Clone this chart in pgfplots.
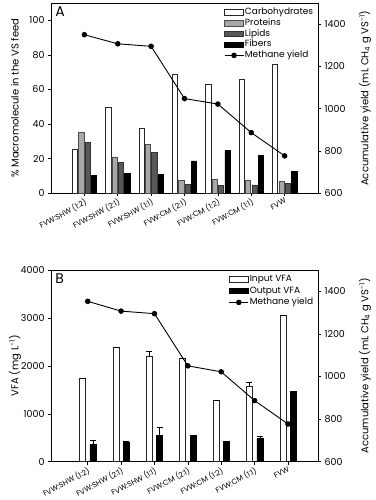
\documentclass[border=0pt]{standalone}
\usepackage{pgfplots}
\pgfplotsset{compat=1.18}
\usepackage{fontspec}
\setmainfont{Poppins}
\definecolor{protgray}{HTML}{A8A8A8}
\definecolor{lipgray}{HTML}{585858}
\pgfplotsset{
  base/.style={
    scale only axis, width=267pt,
    tick align=outside, major tick length=3pt,
    /pgf/number format/assume math mode=true,
    /pgf/number format/1000 sep={},
    scaled y ticks=false,
    tick label style={font=\fontsize{9.5}{11}\selectfont},
    label style={font=\fontsize{10}{12}\selectfont},
    every tick/.style={black, line width=0.5pt},
    axis line style={black, line width=0.6pt},
  },
  xlabs/.style={
    xtick={0,...,6}, xtick pos=bottom,
    xticklabels={FVW:SHW (1:2),FVW:SHW (2:1),FVW:SHW (1:1),FVW:CM (2:1),FVW:CM (1:2),FVW:CM (1:1),FVW},
    x tick label style={rotate=28, anchor=north east, font=\fontsize{7.5}{9}\selectfont, inner sep=1pt},
  },
  legs/.style={
    legend style={at={(rel axis cs:0.99,0.985)}, anchor=north east, draw=none, fill=none,
      font=\fontsize{9}{10}\selectfont, row sep=#1, inner sep=1pt,
      nodes={text height=6.5pt, text depth=1.8pt, inner sep=1pt},
      cells={anchor=west}},
    legend cell align=left,
  },
  barleg/.style={legend image code/.code={\draw[##1] (0pt,-2.8pt) rectangle (19pt,2.8pt);}},
  lineleg/.style={legend image code/.code={\draw[black, line width=0.9pt] (0pt,0pt) -- (19pt,0pt);\fill[black] (9.5pt,0pt) circle (2.3pt);}},
}
\begin{document}
\begin{tikzpicture}[x=1pt,y=1pt]
\useasboundingbox (0,0) rectangle (375,500);
% ---------------- Panel A: bars ----------------
\begin{axis}[base, xlabs, at={(51pt,306.7pt)}, anchor=south west, height=190.3pt,
  xmin=-1, xmax=7, ymin=0, ymax=110,
  ytick={0,20,...,100}, ytick pos=left,
  ylabel={\% Macromolecule in the VS feed},
  ylabel style={at={(axis description cs:-0.135,0.5)}, anchor=center},
  ybar, bar width=5.3pt,
]
\addplot[bar shift=-9.6pt, fill=white, draw=black!85, line width=0.5pt] coordinates {(0,25.2) (1,49.8) (2,37.5) (3,69) (4,63.2) (5,66.1) (6,74.7)};
\addplot[bar shift=-3.2pt, fill=protgray, draw=black!70, line width=0.5pt] coordinates {(0,35.1) (1,21.1) (2,28.2) (3,7.6) (4,8) (5,7.7) (6,7.1)};
\addplot[bar shift=3.2pt, fill=lipgray, draw=black!80, line width=0.5pt] coordinates {(0,29.6) (1,17.9) (2,23.7) (3,5.3) (4,4.4) (5,4.8) (6,5.9)};
\addplot[bar shift=9.6pt, fill=black, draw=black, line width=0.5pt] coordinates {(0,10.5) (1,11.6) (2,11) (3,18.8) (4,24.7) (5,21.8) (6,12.6)};
\node[font=\fontsize{14}{16}\selectfont, anchor=north west, inner sep=1pt] at (rel axis cs:0.012,0.985) {A};
\end{axis}
% ---------------- Panel A: line ----------------
\begin{axis}[base, legs=0.5pt, at={(51pt,306.7pt)}, anchor=south west, height=190.3pt,
  xmin=-1, xmax=7, ymin=600, ymax=1500,
  axis x line=none, axis y line*=right,
  ytick={600,800,...,1400},
  ylabel={Accumulative yield (mL CH\textsubscript{4} g VS\textsuperscript{-1})},
  ylabel style={at={(axis description cs:1.176,0.5)}, anchor=center, rotate=0},
]
\addlegendimage{barleg, fill=white, draw=black!85, line width=0.5pt}
\addlegendentry{Carbohydrates}
\addlegendimage{barleg, fill=protgray, draw=black!70, line width=0.5pt}
\addlegendentry{Proteins}
\addlegendimage{barleg, fill=lipgray, draw=black!80, line width=0.5pt}
\addlegendentry{Lipids}
\addlegendimage{barleg, fill=black, draw=black, line width=0.5pt}
\addlegendentry{Fibers}
\addplot[black, line width=0.9pt, mark=*, mark size=2.3pt, lineleg] coordinates {(0,1350) (1,1307) (2,1295) (3,1048) (4,1022) (5,887) (6,777)};
\addlegendentry{Methane yield}
\end{axis}
% ---------------- Panel B: bars ----------------
\begin{axis}[base, xlabs, at={(51pt,38.3pt)}, anchor=south west, height=191.7pt,
  xmin=-1.1, xmax=6.9, ymin=0, ymax=4000,
  ytick={0,1000,...,4000}, ytick pos=left,
  ylabel={VFA (mg L\textsuperscript{-1})},
  ylabel style={at={(axis description cs:-0.135,0.5)}, anchor=center},
  ybar, bar width=6pt,
]
\addplot[bar shift=-5.2pt, fill=white, draw=black!85, line width=0.5pt,
  error bars/.cd, y dir=plus, y explicit, error bar style={black, line width=0.5pt},
  error mark options={rotate=90, mark size=3pt, black}]
  coordinates {(0,1732) +- (0,0) (1,2393) +- (0,0) (2,2191) +- (0,125) (3,2165) +- (0,0) (4,1273) +- (0,0) (5,1579) +- (0,70) (6,3054) +- (0,0)};
\addplot[bar shift=5.2pt, fill=black, draw=black, line width=0.5pt,
  error bars/.cd, y dir=plus, y explicit, error bar style={black, line width=0.5pt},
  error mark options={rotate=90, mark size=3pt, black}]
  coordinates {(0,362) +- (0,90) (1,403) +- (0,20) (2,550) +- (0,180) (3,543) +- (0,15) (4,417) +- (0,0) (5,480) +- (0,50) (6,1475) +- (0,0)};
\node[font=\fontsize{14}{16}\selectfont, anchor=north west, inner sep=1pt] at (rel axis cs:0.012,0.985) {B};
\end{axis}
% ---------------- Panel B: line ----------------
\begin{axis}[base, legs=1.3pt, at={(51pt,38.3pt)}, anchor=south west, height=191.7pt,
  xmin=-1.1, xmax=6.9, ymin=600, ymax=1500,
  axis x line=none, axis y line*=right,
  ytick={600,800,...,1400},
  ylabel={Accumulative yield (mL CH\textsubscript{4} g VS\textsuperscript{-1})},
  ylabel style={at={(axis description cs:1.176,0.5)}, anchor=center, rotate=0},
]
\addlegendimage{barleg, fill=white, draw=black!85, line width=0.5pt}
\addlegendentry{Input VFA}
\addlegendimage{barleg, fill=black, draw=black, line width=0.5pt}
\addlegendentry{Output VFA}
\addplot[black, line width=0.9pt, mark=*, mark size=2.3pt, lineleg] coordinates {(0,1353) (1,1307) (2,1295) (3,1050) (4,1022) (5,887) (6,777)};
\addlegendentry{Methane yield}
\end{axis}
\end{tikzpicture}
\end{document}
